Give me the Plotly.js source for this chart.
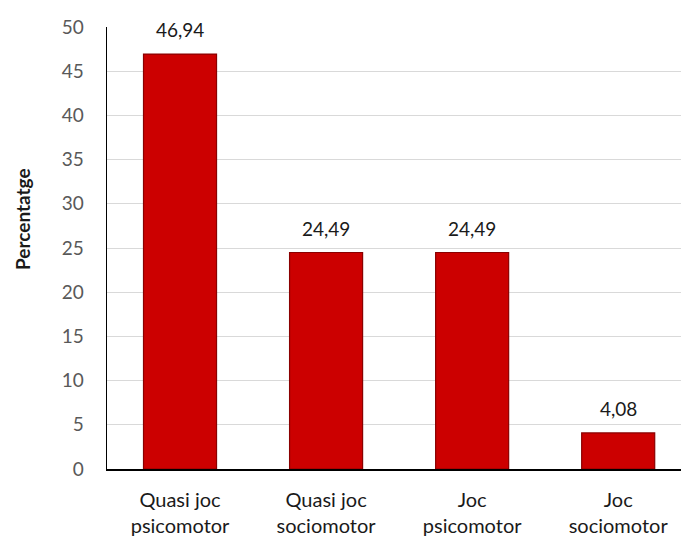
<!DOCTYPE html>
<html>
<head>
<meta charset="utf-8">
<script src="https://cdn.plot.ly/plotly-3.0.1.min.js"></script>
<style>
  html, body { margin: 0; padding: 0; background: #fff; overflow: hidden; }
  #chart { width: 681px; height: 539px; }
</style>
</head>
<body>
<div id="chart"></div>
<script>
  "use strict";

  // values
  var categories = ["Quasi joc<br>psicomotor", "Quasi joc<br>sociomotor", "Joc<br>psicomotor", "Joc<br>sociomotor"];
  var percentValues = [46.94, 24.49, 24.49, 4.08];
  var yTickValues = [0, 5, 10, 15, 20, 25, 30, 35, 40, 45, 50];

  var font = "Lato, 'Open Sans', 'DejaVu Sans', sans-serif";

  var bars = {
    type: "bar",
    x: categories,
    y: percentValues,
    marker: {
      color: "#cc0000",
      line: { color: "#8a0000", width: 1.2 }
    },
    hoverinfo: "x+y"
  };

  // data labels above each bar, comma decimal
  var labels = percentValues.map(function (v, i) {
    return {
      x: categories[i],
      y: v,
      xref: "x",
      yref: "y",
      text: v.toFixed(2).replace(".", ","),
      showarrow: false,
      yanchor: "bottom",
      yshift: 11,
      font: { family: font, size: 19, color: "#1a1a1a" }
    };
  });

  labels.push({
    text: "<b>Percentatge</b>",
    xref: "paper",
    yref: "paper",
    x: -0.146,
    xanchor: "center",
    y: 0.566,
    yanchor: "middle",
    showarrow: false,
    textangle: -90,
    font: { family: font, size: 19, color: "#1a1a1a" }
  });

  var layout = {
    width: 681,
    height: 539,
    margin: { l: 107, r: 0, t: 27, b: 70 },
    paper_bgcolor: "#ffffff",
    plot_bgcolor: "#ffffff",
    showlegend: false,
    bargap: 0.5,
    xaxis: {
      range: [-0.5, 3.43],
      showgrid: false,
      showline: true,
      linecolor: "#000000",
      linewidth: 1.5,
      ticks: "",
      ticklabelstandoff: 12,
      tickfont: { family: font, size: 20, color: "#1a1a1a" },
      fixedrange: true
    },
    yaxis: {
      range: [0, 50],
      tickvals: yTickValues,
      showgrid: true,
      gridcolor: "#d9d9d9",
      gridwidth: 1,
      zeroline: false,
      showline: true,
      linecolor: "#000000",
      linewidth: 1.5,
      ticks: "",
      ticklabelstandoff: 18,
      tickfont: { family: font, size: 19, color: "#595959" },
      fixedrange: true
    },
    annotations: labels
  };

  Plotly.newPlot("chart", [bars], layout, { displayModeBar: false, staticPlot: true });
</script>
</body>
</html>
